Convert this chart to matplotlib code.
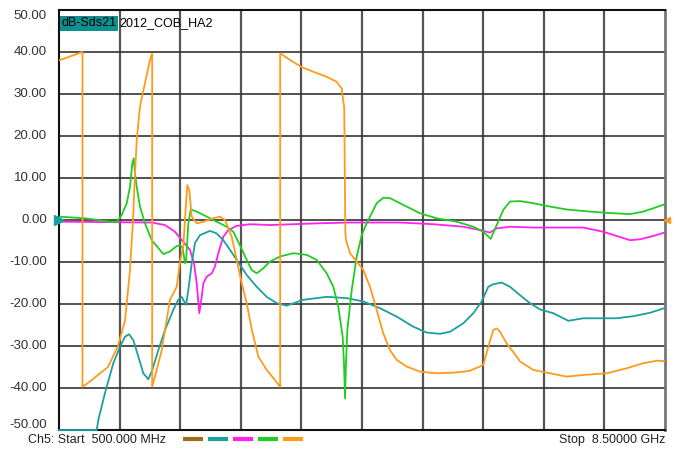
import matplotlib.pyplot as plt

# frequency axis (GHz) and traces (dB)
orange_f = [0.5, 0.808, 0.81, 0.81, 0.883, 1.147, 1.279, 1.371, 1.437, 1.477, 1.503, 1.526, 1.569,
            1.635, 1.701, 1.724, 1.73, 1.73, 1.767, 1.856, 1.965, 2.054, 2.097, 2.141, 2.177, 2.194,
            2.22, 2.252, 2.318, 2.405, 2.537, 2.625, 2.691, 2.78, 2.846, 2.912, 2.978, 3.044, 3.131,
            3.242, 3.329, 3.417, 3.42, 3.42, 3.549, 3.704, 3.857, 4.034, 4.166, 4.232, 4.253, 4.265,
            4.28, 4.289, 4.342, 4.43, 4.517, 4.606, 4.694, 4.781, 4.87, 4.958, 5.09, 5.266, 5.486,
            5.75, 5.926, 6.101, 6.167, 6.233, 6.278, 6.322, 6.41, 6.542, 6.586, 6.762, 6.982, 7.202,
            7.421, 7.73, 7.994, 8.213, 8.39, 8.49]
orange_db = [38.0, 40.0, 40.0, -39.7, -38.8, -35.0, -30.0, -24.0, -12.0, 0.0, 11.0, 19.0, 27.0,
             32.6, 38.0, 39.5, 39.5, -39.7, -37.3, -31.0, -19.0, -15.9, -10.0, -6.3, 4.0, 8.3,
             7.1, 0.8, -0.8, -0.4, 0.4, 0.8, 0.0, -4.0, -9.5, -15.0, -19.8, -26.0, -32.5,
             -35.7, -37.6, -39.7, -39.7, 39.7, 38.1, 36.4, 35.3, 34.1, 32.9, 31.3, 28.2, 27.0,
             -3.0, -4.8, -7.9, -9.9, -11.9, -15.9, -21.4, -27.0, -31.0, -33.3, -34.9, -36.1, -36.5,
             -36.3, -35.9, -34.5, -30.2, -26.2, -25.8, -26.6, -29.4, -32.5, -33.7, -35.7, -36.5, -37.3,
             -36.9, -36.5, -35.3, -34.1, -33.5, -33.6]

teal_f = [0.5, 0.998, 1.019, 1.107, 1.217, 1.305, 1.371, 1.424, 1.481, 1.547, 1.613, 1.679, 1.732,
          1.811, 1.899, 2.009, 2.075, 2.12, 2.141, 2.177, 2.207, 2.252, 2.295, 2.361, 2.493, 2.582,
          2.669, 2.757, 2.846, 2.978, 3.11, 3.242, 3.374, 3.506, 3.725, 4.034, 4.298, 4.517, 4.738,
          4.958, 5.177, 5.354, 5.53, 5.662, 5.837, 5.969, 6.08, 6.167, 6.233, 6.344, 6.454, 6.586,
          6.718, 6.85, 7.026, 7.223, 7.421, 7.862, 8.081, 8.301, 8.49]
teal_db = [-50.0, -50.0, -47.6, -41.2, -34.1, -30.2, -27.8, -27.2, -28.6, -32.5, -36.5, -37.9, -35.7,
           -31.0, -26.2, -21.4, -19.0, -18.3, -19.0, -20.2, -16.7, -10.3, -5.5, -3.6, -2.6, -3.2,
           -4.8, -7.1, -9.5, -13.1, -15.9, -18.3, -19.8, -20.4, -19.0, -18.3, -18.6, -19.4, -21.0,
           -23.0, -25.4, -26.8, -27.1, -26.6, -24.6, -22.2, -19.4, -15.9, -15.3, -14.9, -15.9, -17.9,
           -19.8, -21.3, -22.2, -24.0, -23.4, -23.4, -22.9, -22.1, -21.0]

magenta_f = [0.5, 1.724, 1.899, 2.031, 2.141, 2.229, 2.282, 2.318, 2.352, 2.384, 2.405, 2.45, 2.516,
             2.559, 2.603, 2.669, 2.735, 2.846, 3.021, 3.285, 3.902, 4.342, 5.002, 5.441, 5.837,
             6.058, 6.19, 6.278, 6.454, 6.761, 7.421, 7.686, 7.862, 8.038, 8.17, 8.346, 8.49]
magenta_db = [-0.4, -0.6, -1.2, -2.8, -5.2, -7.1, -10.3, -15.1, -22.2, -18.3, -15.1, -13.5, -12.7,
              -11.1, -7.9, -4.0, -2.4, -1.4, -1.0, -1.2, -0.8, -0.6, -0.6, -1.0, -1.6,
              -2.4, -3.0, -2.0, -1.6, -1.8, -1.8, -2.8, -3.8, -4.8, -4.6, -3.8, -3.0]

green_f = [0.5, 0.843, 1.019, 1.196, 1.262, 1.328, 1.394, 1.437, 1.468, 1.486, 1.503, 1.526, 1.569,
           1.635, 1.724, 1.877, 1.965, 2.054, 2.097, 2.133, 2.163, 2.177, 2.207, 2.239, 2.318, 2.45,
           2.582, 2.714, 2.801, 2.889, 2.978, 3.044, 3.11, 3.197, 3.285, 3.417, 3.593, 3.77, 3.902,
           4.034, 4.121, 4.187, 4.245, 4.262, 4.276, 4.289, 4.306, 4.364, 4.43, 4.496, 4.562, 4.694,
           4.781, 4.87, 5.045, 5.266, 5.486, 5.75, 5.969, 6.101, 6.199, 6.278, 6.365, 6.454, 6.586,
           6.762, 6.982, 7.202, 7.51, 7.73, 8.038, 8.213, 8.346, 8.49]
green_db = [0.8, 0.4, 0.0, -0.5, -0.5, 1.2, 4.0, 7.9, 13.5, 14.7, 11.1, 7.9, 3.2,
            -0.8, -4.8, -8.1, -7.5, -6.2, -6.0, -6.7, -10.3, -9.9, -0.8, 2.5, 2.0, 0.8,
            -0.4, -1.6, -2.8, -6.0, -9.5, -11.9, -12.7, -11.5, -9.9, -8.7, -7.9, -8.3, -9.5,
            -12.7, -15.9, -20.6, -27.8, -34.1, -42.5, -34.1, -26.2, -16.7, -8.7, -3.6, -0.8, 4.0,
            5.3, 5.2, 3.6, 1.6, 0.4, -0.4, -1.6, -2.8, -4.5, -1.2, 2.4, 4.4, 4.5,
            4.0, 3.2, 2.5, 2.0, 1.7, 1.4, 2.0, 2.8, 3.7]

y_ticks = [50, 40, 30, 20, 10, 0, -10, -20, -30, -40, -50]
x_ticks = [0.5, 1.3, 2.1, 2.9, 3.7, 4.5, 5.3, 6.1, 6.9, 7.7, 8.5]

c_orange = '#ff9a1a'
c_teal = '#1aa0a0'
c_magenta = '#ff22ee'
c_green = '#22cc22'
c_brown = '#9c6b1c'

plt.rcParams['font.family'] = ['Liberation Sans', 'DejaVu Sans']

fig = plt.figure(figsize=(6.79, 4.51), dpi=100)
ax = fig.add_axes([59 / 679, 21 / 451, 606 / 679, 420 / 451])

# grid
for xv in x_ticks[1:-1]:
    ax.axvline(xv, color='#555555', linewidth=1.6, zorder=1)
for yv in y_ticks[1:-1]:
    ax.axhline(yv, color='#333333', linewidth=1.2, zorder=1)

ax.plot(magenta_f, magenta_db, color=c_magenta, linewidth=1.3, zorder=3)
ax.plot(teal_f, teal_db, color=c_teal, linewidth=1.3, zorder=4, clip_on=False)
ax.plot(green_f, green_db, color=c_green, linewidth=1.3, zorder=5)
ax.plot(orange_f, orange_db, color=c_orange, linewidth=1.3, zorder=6)

ax.set_xlim(0.5, 8.5)
ax.set_ylim(-50, 50)
ax.set_xticks([])
ax.set_yticks([])
for side in ['top', 'left', 'bottom']:
    ax.spines[side].set_color('#111111')
    ax.spines[side].set_linewidth(1.5)
ax.spines['right'].set_color('#777777')
ax.spines['right'].set_linewidth(2)

# y labels, top and bottom ones nudged inside like the analyzer does
for yv in y_ticks:
    ypos = yv
    if yv == 50:
        ypos = 48.5
    elif yv == -50:
        ypos = -48.8
    ax.text(-0.02, ypos, '%.2f' % yv, transform=ax.get_yaxis_transform(),
            ha='right', va='center', fontsize=9.5, color='#333333')

# reference markers
ax.plot([0.5], [0], marker='>', color=c_teal, markersize=7, clip_on=False, zorder=7)
ax.plot([8.53], [0], marker='<', color=c_orange, markersize=4, clip_on=False, zorder=7)

# trace title box
ax.text(0.0035, 0.968, 'dB-Sds21', transform=ax.transAxes, ha='left', va='center',
        fontsize=9, color='black',
        bbox=dict(boxstyle='square,pad=0.12', facecolor='#0e9090', edgecolor='none'))
ax.text(0.1, 0.968, '2012_COB_HA2', transform=ax.transAxes, ha='left', va='center',
        fontsize=9, color='black')

# footer
fig.text(28 / 679, 1 - 440 / 451, 'Ch5: Start  500.000 MHz', ha='left', va='center',
         fontsize=9, color='#222222')
fig.text(665 / 679, 1 - 440 / 451, 'Stop  8.50000 GHz', ha='right', va='center',
         fontsize=9, color='#222222')
for i, col in enumerate([c_brown, c_teal, c_magenta, c_green, c_orange]):
    x0 = (183 + i * 25) / 679
    fig.add_artist(plt.Line2D([x0, x0 + 20 / 679], [1 - 439 / 451, 1 - 439 / 451],
                              color=col, linewidth=3, solid_capstyle='butt'))

fig.savefig('out.png', dpi=100)
